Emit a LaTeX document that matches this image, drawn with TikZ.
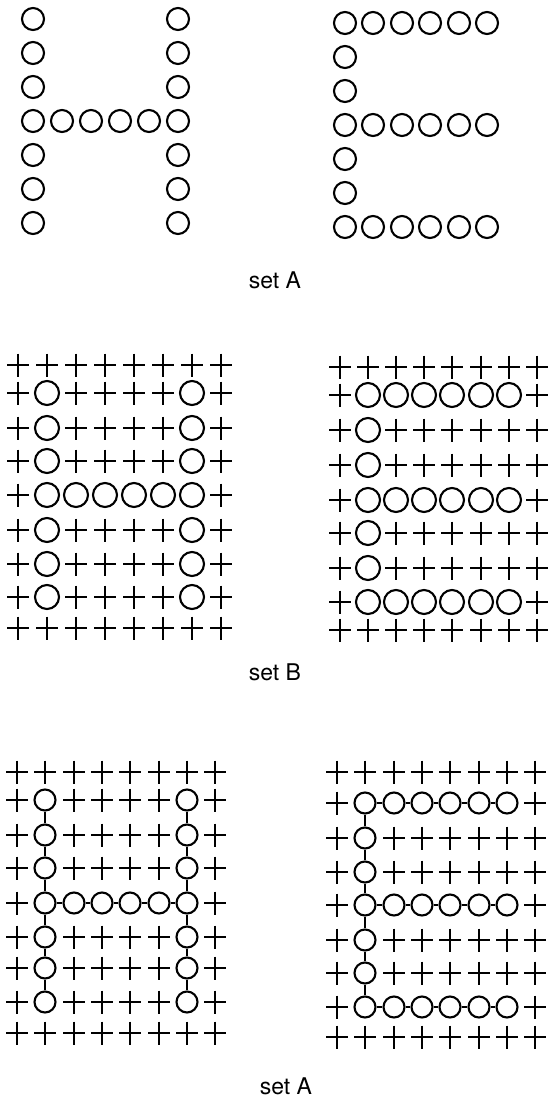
\documentclass[tikz,border=0pt]{standalone}
\usepackage{fontspec}
\setsansfont{TeX Gyre Heros}
\tikzset{
  x=1pt, y=-1pt,
  ring/.style={circle, draw, line width=2.1pt, inner sep=0pt, minimum size=#1},
  crossmark/.style={line width=2.2pt},
  link/.style={line width=2.1pt},
  caption/.style={font=\sffamily\fontsize{23}{27}\selectfont, inner sep=0pt}
}
% #1 name prefix, #2 first column x, #3 column step, #4 ring diameter,
% #5 rows as  y/{cells}  with 1 = ring, 0 = plus, 2 = empty
\newcommand\markgrid[5]{%
  \foreach \yy/\pat [count=\j] in {#5} {
    \foreach \c [count=\i] in \pat {
      \pgfmathsetmacro\xx{round(#2+(\i-1)*#3)}
      \ifnum\c=1
        \node[ring=#4] (#1-\j-\i) at (\xx,\yy) {};
      \else\ifnum\c=0
        \draw[crossmark] (\xx-11,\yy) -- ++(22,0) (\xx,\yy-11.5) -- ++(0,23);
      \fi\fi
    }
  }%
}
\begin{document}
\begin{tikzpicture}
\useasboundingbox (0,0) rectangle (549,1101);

% ---- plain letters ----
\markgrid{ah}{33}{29}{22}{
  19/{1,2,2,2,2,1}, 53/{1,2,2,2,2,1}, 87/{1,2,2,2,2,1},
  121/{1,1,1,1,1,1},
  155/{1,2,2,2,2,1}, 189/{1,2,2,2,2,1}, 223/{1,2,2,2,2,1}}
\markgrid{ae}{345}{28.4}{22}{
  23/{1,1,1,1,1,1}, 57/{1,2,2,2,2,2}, 91/{1,2,2,2,2,2},
  125/{1,1,1,1,1,1},
  159/{1,2,2,2,2,2}, 193/{1,2,2,2,2,2}, 227/{1,1,1,1,1,1}}
\node[caption] (capA) at (275,280) {set A};

% ---- letters on a field of plus marks ----
\markgrid{bh}{18}{29}{24}{
  365/{0,0,0,0,0,0,0,0},
  393/{0,1,0,0,0,0,1,0}, 428/{0,1,0,0,0,0,1,0}, 461/{0,1,0,0,0,0,1,0},
  495/{0,1,1,1,1,1,1,0},
  530/{0,1,0,0,0,0,1,0}, 564/{0,1,0,0,0,0,1,0}, 597/{0,1,0,0,0,0,1,0},
  628/{0,0,0,0,0,0,0,0}}
\markgrid{be}{340}{28.1}{24}{
  367/{0,0,0,0,0,0,0,0},
  395/{0,1,1,1,1,1,1,0},
  430/{0,1,0,0,0,0,0,0}, 465/{0,1,0,0,0,0,0,0},
  500/{0,1,1,1,1,1,1,0},
  533/{0,1,0,0,0,0,0,0}, 568/{0,1,0,0,0,0,0,0},
  602/{0,1,1,1,1,1,1,0},
  630/{0,0,0,0,0,0,0,0}}
\node[caption] (capB) at (275,672) {set B};

% ---- linked letters ----
\markgrid{ch}{17}{28.3}{21}{
  772/{0,0,0,0,0,0,0,0},
  800/{0,1,0,0,0,0,1,0}, 835/{0,1,0,0,0,0,1,0}, 868/{0,1,0,0,0,0,1,0},
  903/{0,1,1,1,1,1,1,0},
  937/{0,1,0,0,0,0,1,0}, 968/{0,1,0,0,0,0,1,0}, 1002/{0,1,0,0,0,0,1,0},
  1033/{0,0,0,0,0,0,0,0}}
\markgrid{ce}{337}{28.3}{21}{
  772/{0,0,0,0,0,0,0,0},
  803/{0,1,1,1,1,1,1,0},
  838/{0,1,0,0,0,0,0,0}, 872/{0,1,0,0,0,0,0,0},
  905/{0,1,1,1,1,1,1,0},
  940/{0,1,0,0,0,0,0,0}, 973/{0,1,0,0,0,0,0,0},
  1007/{0,1,1,1,1,1,1,0},
  1037/{0,0,0,0,0,0,0,0}}

% vertical strokes
\foreach \k in {2,7}
  \foreach \j [remember=\j as \p (initially 2)] in {3,...,8}
    \draw[link] (ch-\p-\k) -- (ch-\j-\k);
\foreach \j [remember=\j as \p (initially 2)] in {3,...,8}
  \draw[link] (ce-\p-2) -- (ce-\j-2);
% horizontal strokes
\foreach \i [remember=\i as \q (initially 2)] in {3,...,7}
  \draw[link] (ch-5-\q) -- (ch-5-\i);
\foreach \r in {2,5,8}
  \foreach \i [remember=\i as \q (initially 2)] in {3,...,7}
    \draw[link] (ce-\r-\q) -- (ce-\r-\i);
\node[caption] (capC) at (286,1086) {set A};
\end{tikzpicture}
\end{document}
